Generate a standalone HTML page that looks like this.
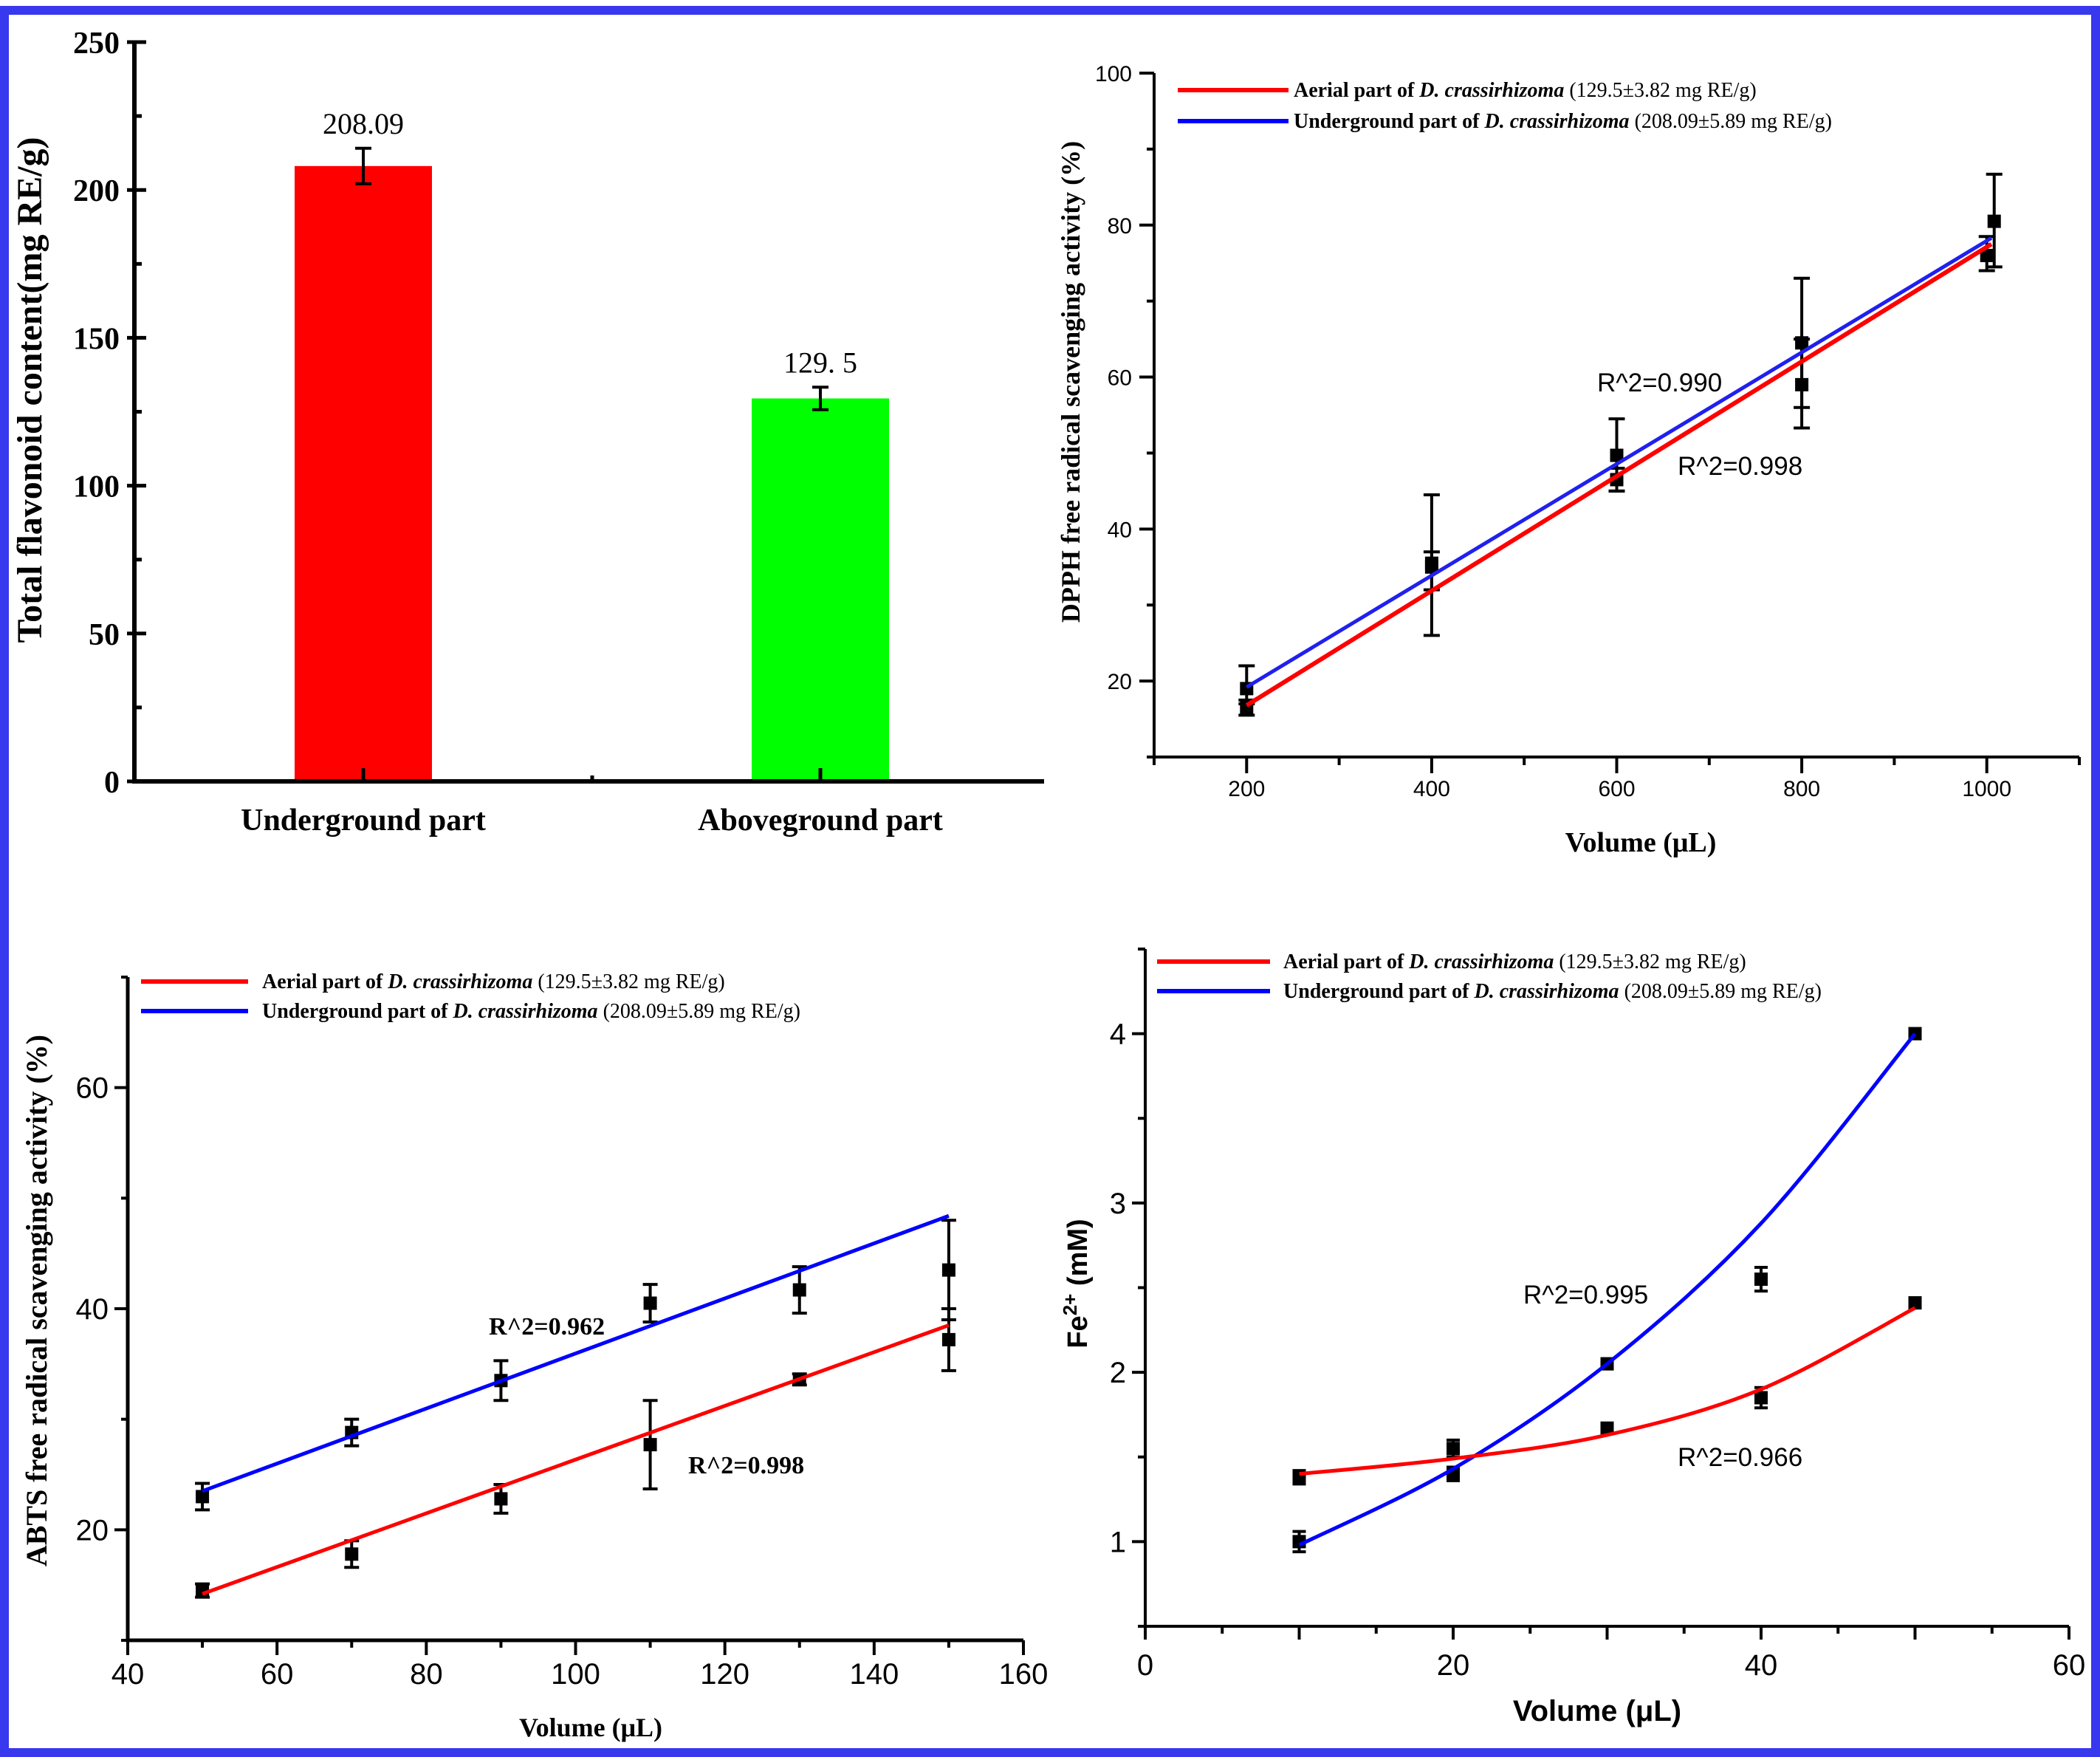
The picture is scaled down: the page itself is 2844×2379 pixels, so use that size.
<!DOCTYPE html>
<html><head><meta charset="utf-8">
<style>
html,body{margin:0;padding:0;background:#fff;}
svg{display:block;}
.tb{font-family:"Liberation Serif",serif;font-weight:bold;}
.tr{font-family:"Liberation Serif",serif;}
.ar{font-family:"Liberation Sans",sans-serif;}
.ab{font-family:"Liberation Sans",sans-serif;font-weight:bold;}
</style></head>
<body>
<svg id="fig" width="2844" height="2379" viewBox="0 0 2844 2379" xmlns="http://www.w3.org/2000/svg">
<rect x="0" y="0" width="2844" height="2379" fill="#fff"/>
<rect x="6" y="14" width="2832" height="2359" fill="none" stroke="#3838ee" stroke-width="12"/>
</svg>
<script>
// ---------- Panel A data ----------
const barCats = ["Underground part", "Aboveground part"];
const barVals = [208.09, 129.5];
const barErr = [6.0, 3.8];
const barLabels = ["208.09", "129. 5"];
const barColors = ["#ff0000", "#00ff00"];
const barTicks = [0, 50, 100, 150, 200, 250];
// ---------- Panel B (DPPH) ----------
const dpphXAerial = [200, 400, 600, 800, 1000];
const dpphYAerial = [16.5, 35, 46.5, 59, 76];
const dpphEAerialLo = [15.5, 32, 45, 53.3, 74];
const dpphEAerialHi = [17.5, 37, 48, 65, 78.5];
const dpphXUnder = [200, 400, 600, 800, 1008];
const dpphYUnder = [19, 35.5, 49.7, 64.5, 80.5];
const dpphEUnderLo = [17, 26, 45, 56, 74.5];
const dpphEUnderHi = [22, 44.5, 54.5, 73, 86.7];
const dpphFitAerial = [[200, 16.8], [1005, 77.5]];
const dpphFitUnder = [[200, 19.2], [1005, 78.3]];
const dpphXTicks = [200, 400, 600, 800, 1000];
const dpphYTicks = [20, 40, 60, 80, 100];
// ---------- Panel C (ABTS) ----------
const abtsX = [50, 70, 90, 110, 130, 150];
const abtsYUnder = [23, 28.8, 33.5, 40.5, 41.7, 43.5];
const abtsEUnder = [1.2, 1.2, 1.8, 1.7, 2.1, 4.5];
const abtsYAerial = [14.5, 17.8, 22.8, 27.7, 33.6, 37.2];
const abtsEAerial = [0.6, 1.2, 1.3, 4.0, 0.5, 2.8];
const abtsFitUnder = [[50, 23.5], [150, 48.4]];
const abtsFitAerial = [[50, 14.2], [150, 38.5]];
const abtsXTicks = [40, 60, 80, 100, 120, 140, 160];
const abtsYTicks = [20, 40, 60];
// ---------- Panel D (FRAP) ----------
const feX = [10, 20, 30, 40, 50];
const feYAerial = [1.38, 1.55, 1.67, 1.85, 2.41];
const feYUnder = [1.0, 1.40, 2.05, 2.55, 4.0];
const feErr = [0.04, 0.05, 0.03, 0.06, 0.03];
const feErrUnder = [0.06, 0.04, 0.03, 0.07, 0.03];
const feFitX = [10, 20, 30, 40, 50];
const feFitAerial = [1.40, 1.49, 1.63, 1.90, 2.38];
const feFitUnder = [0.98, 1.43, 2.05, 2.88, 4.0];
const feXTicks = [0, 20, 40, 60];
const feYTicks = [1, 2, 3, 4];

const NS = "http://www.w3.org/2000/svg";
const svg = document.getElementById("fig");
function mk(tag, attrs, parent) {
  const e = document.createElementNS(NS, tag);
  for (const k in attrs) e.setAttribute(k, attrs[k]);
  (parent || svg).appendChild(e);
  return e;
}
function lin(d0, d1, r0, r1) { return v => r0 + (v - d0) / (d1 - d0) * (r1 - r0); }
function txt(x, y, s, cls, size, anchor, parent) {
  const t = mk("text", {x: x, y: y, class: cls, "font-size": size, "text-anchor": anchor || "middle", fill: "#000"}, parent);
  t.textContent = s;
  return t;
}
function axes(g, x0, x1, y0, y1, w) {
  const a = mk("path", {d: `M${x0},${y1} V${y0} H${x1}`, stroke: "#000", "stroke-width": w, fill: "none"}, g);
  
  
}
function errbar(g, x, ylo, yhi, cap, col) {
  const e = mk("path", {d: `M${x},${ylo} V${yhi} M${x-cap},${ylo} H${x+cap} M${x-cap},${yhi} H${x+cap}`, stroke: col || "#000", "stroke-width": 4, fill: "none"}, g);
  
  
}
function marker(g, x, y, s) {
  const m = mk("rect", {x: x - s/2, y: y - s/2, width: s, height: s, fill: "#000"}, g);
  
  
}
function legend(g, x0, x1, y, tx, size, color, prefix, suffix) {
  const l = mk("line", {x1: x0, x2: x1, y1: y, y2: y, stroke: color, "stroke-width": 6}, g);
  
  
  const t = mk("text", {x: tx, y: y + size * 0.33, class: "tb", "font-size": size, fill: "#000"}, g);
  
  
  const s1 = mk("tspan", {}, t); s1.textContent = prefix;
  const s2 = mk("tspan", {"font-style": "italic"}, t); s2.textContent = "D. crassirhizoma";
  const s3 = mk("tspan", {"font-weight": "normal"}, t); s3.textContent = suffix;
}

// ================= Panel A =================
(function () {
  const g = mk("g", {});
  
  
  const X0 = 182, X1 = 1414, Y0 = 1058, Y1 = 57;
  const y = lin(0, 250, Y0, Y1);
  const cx = [492, 1111];
  const bw = 186;
  barVals.forEach((v, i) => {
    const r = mk("rect", {x: cx[i] - bw/2, y: y(v), width: bw, height: Y0 - y(v), fill: barColors[i]}, g);
    
    
    errbar(g, cx[i], y(v - barErr[i]), y(v + barErr[i]), 11);
    const vl = txt(cx[i], y(v + barErr[i]) - 20, barLabels[i], "tr", 40, "middle", g);
    
    
    const cl = txt(cx[i], 1124, barCats[i], "tb", 42, "middle", g);
    
    
    mk("line", {x1: cx[i], x2: cx[i], y1: Y0, y2: Y0 - 18, stroke: "#000", "stroke-width": 5}, g);
  });
  mk("line", {x1: 802, x2: 802, y1: Y0, y2: Y0 - 8, stroke: "#000", "stroke-width": 5}, g);
  axes(g, X0, X1, Y0, Y1, 6);
  barTicks.forEach(v => {
    mk("line", {x1: X0 - 10, x2: X0 + 16, y1: y(v), y2: y(v), stroke: "#000", "stroke-width": 5}, g);
    const t = txt(X0 - 20, y(v) + 15, String(v), "tb", 42, "end", g);
    
    
    if (v < 250) mk("line", {x1: X0, x2: X0 + 10, y1: y(v + 25), y2: y(v + 25), stroke: "#000", "stroke-width": 5}, g);
  });
  const yt = txt(0, 0, "Total flavonoid content(mg RE/g)", "tb", 48, "middle", g);
  yt.setAttribute("transform", "translate(56,528) rotate(-90)");
  
  
})();

// ================= Panel B (DPPH) =================
(function () {
  const g = mk("g", {});
  
  
  const X0 = 1563, X1 = 2816, Y0 = 1025, Y1 = 99;
  const x = lin(100, 1100, X0, X1), y = lin(10, 100, Y0, Y1);
  for (let v = 100; v <= 1100; v += 100) {
    const major = v % 200 === 0;
    mk("line", {x1: x(v), x2: x(v), y1: Y0, y2: Y0 + (major ? 22 : 11), stroke: "#000", "stroke-width": 4}, g);
  }
  dpphXTicks.forEach(v => {
    const t = txt(x(v), 1078, String(v), "ar", 30, "middle", g);
    
    
  });
  for (let v = 10; v <= 100; v += 10) {
    const major = v % 20 === 0;
    mk("line", {x1: X0 - (major ? 20 : 10), x2: X0, y1: y(v), y2: y(v), stroke: "#000", "stroke-width": 4}, g);
  }
  dpphYTicks.forEach(v => {
    const t = txt(X0 - 30, y(v) + 11, String(v), "ar", 30, "end", g);
    
    
  });
  axes(g, X0, X1, Y0, Y1, 4);
  dpphXAerial.forEach((v, i) => errbar(g, x(v), y(dpphEAerialLo[i]), y(dpphEAerialHi[i]), 11));
  dpphXUnder.forEach((v, i) => errbar(g, x(v), y(dpphEUnderLo[i]), y(dpphEUnderHi[i]), 11));
  dpphXAerial.forEach((v, i) => marker(g, x(v), y(dpphYAerial[i]), 18));
  dpphXUnder.forEach((v, i) => marker(g, x(v), y(dpphYUnder[i]), 18));
  const fr = mk("line", {x1: x(dpphFitAerial[0][0]), y1: y(dpphFitAerial[0][1]), x2: x(dpphFitAerial[1][0]), y2: y(dpphFitAerial[1][1]), stroke: "#ff0000", "stroke-width": 6}, g);
  
  
  const fb = mk("line", {x1: x(dpphFitUnder[0][0]), y1: y(dpphFitUnder[0][1]), x2: x(dpphFitUnder[1][0]), y2: y(dpphFitUnder[1][1]), stroke: "#2020ee", "stroke-width": 5}, g);
  
  
  legend(g, 1595, 1745, 122, 1752, 28, "#ff0000", "Aerial part of ", " (129.5±3.82 mg RE/g)");
  legend(g, 1595, 1745, 164, 1752, 28, "#0000ff", "Underground part of ", "  (208.09±5.89 mg RE/g)");
  const r1 = txt(2163, 530, "R^2=0.990", "ar", 35, "start", g);
  
  
  const r2 = txt(2272, 643, "R^2=0.998", "ar", 35, "start", g);
  
  
  const xt = txt(2222, 1153, "Volume (μL)", "tb", 38, "middle", g);
  
  
  const yt = txt(0, 0, "DPPH  free radical scavenging activity (%)", "tb", 36, "middle", g);
  yt.setAttribute("transform", "translate(1462,517) rotate(-90)");
  
  
})();

// ================= Panel C (ABTS) =================
(function () {
  const g = mk("g", {});
  
  
  const X0 = 173, X1 = 1386, Y0 = 2221, Y1 = 1323;
  const x = lin(40, 160, X0, X1), y = lin(10, 70, Y0, Y1);
  for (let v = 40; v <= 160; v += 10) {
    const major = v % 20 === 0;
    mk("line", {x1: x(v), x2: x(v), y1: Y0, y2: Y0 + (major ? 20 : 10), stroke: "#000", "stroke-width": 4}, g);
  }
  abtsXTicks.forEach(v => {
    const t = txt(x(v), 2280, String(v), "ar", 40, "middle", g);
    
    
  });
  for (let v = 10; v <= 70; v += 10) {
    const major = v % 20 === 0;
    mk("line", {x1: X0 - (major ? 18 : 9), x2: X0, y1: y(v), y2: y(v), stroke: "#000", "stroke-width": 4}, g);
  }
  abtsYTicks.forEach(v => {
    const t = txt(X0 - 26, y(v) + 14, String(v), "ar", 40, "end", g);
    
    
  });
  axes(g, X0, X1, Y0, Y1, 5);
  abtsX.forEach((v, i) => errbar(g, x(v), y(abtsYUnder[i] - abtsEUnder[i]), y(abtsYUnder[i] + abtsEUnder[i]), 10));
  abtsX.forEach((v, i) => errbar(g, x(v), y(abtsYAerial[i] - abtsEAerial[i]), y(abtsYAerial[i] + abtsEAerial[i]), 10));
  abtsX.forEach((v, i) => marker(g, x(v), y(abtsYUnder[i]), 18));
  abtsX.forEach((v, i) => marker(g, x(v), y(abtsYAerial[i]), 18));
  const fb = mk("line", {x1: x(abtsFitUnder[0][0]), y1: y(abtsFitUnder[0][1]), x2: x(abtsFitUnder[1][0]), y2: y(abtsFitUnder[1][1]), stroke: "#0000ff", "stroke-width": 5}, g);
  
  
  const fr = mk("line", {x1: x(abtsFitAerial[0][0]), y1: y(abtsFitAerial[0][1]), x2: x(abtsFitAerial[1][0]), y2: y(abtsFitAerial[1][1]), stroke: "#ff0000", "stroke-width": 5}, g);
  
  
  legend(g, 191, 336, 1329, 355, 28, "#ff0000", "Aerial part of ", "  (129.5±3.82 mg RE/g)");
  legend(g, 191, 336, 1369, 355, 28, "#0000ff", "Underground part of ", " (208.09±5.89 mg RE/g)");
  const r1 = txt(662, 1807, "R^2=0.962", "tb", 34, "start", g);
  
  
  const r2 = txt(932, 1995, "R^2=0.998", "tb", 34, "start", g);
  
  
  const xt = txt(800, 2351, "Volume (μL)", "tb", 36, "middle", g);
  
  
  const yt = txt(0, 0, "ABTS free radical scavenging activity (%)", "tb", 40, "middle", g);
  yt.setAttribute("transform", "translate(63,1761) rotate(-90)");
  
  
})();

// ================= Panel D (Fe2+) =================
(function () {
  const g = mk("g", {});
  
  
  const X0 = 1551, X1 = 2802, Y0 = 2202, Y1 = 1285;
  const x = lin(0, 60, X0, X1), y = lin(0.5, 4.5, Y0, Y1);
  for (let v = 0; v <= 60; v += 5) {
    const major = v % 10 === 0;
    mk("line", {x1: x(v), x2: x(v), y1: Y0, y2: Y0 + (major ? 18 : 10), stroke: "#000", "stroke-width": 4}, g);
  }
  feXTicks.forEach(v => {
    const t = txt(x(v), 2268, String(v), "ar", 40, "middle", g);
    
    
  });
  for (let v = 0.5; v <= 4.5; v += 0.5) {
    const major = Math.abs(v - Math.round(v)) < 1e-6;
    mk("line", {x1: X0 - (major ? 18 : 10), x2: X0, y1: y(v), y2: y(v), stroke: "#000", "stroke-width": 4}, g);
  }
  feYTicks.forEach(v => {
    const t = txt(X0 - 26, y(v) + 14, String(v), "ar", 40, "end", g);
    
    
  });
  axes(g, X0, X1, Y0, Y1, 4);
  feX.forEach((v, i) => errbar(g, x(v), y(feYAerial[i] - feErr[i]), y(feYAerial[i] + feErr[i]), 9));
  feX.forEach((v, i) => errbar(g, x(v), y(feYUnder[i] - feErrUnder[i]), y(feYUnder[i] + feErrUnder[i]), 9));
  feX.forEach((v, i) => marker(g, x(v), y(feYAerial[i]), 18));
  feX.forEach((v, i) => marker(g, x(v), y(feYUnder[i]), 18));
  function curve(xs, ys) {
    const P = xs.map((v, i) => [x(v), y(ys[i])]);
    let d = `M${P[0][0]},${P[0][1]}`;
    for (let i = 0; i < P.length - 1; i++) {
      const p0 = P[Math.max(0, i - 1)], p1 = P[i], p2 = P[i + 1], p3 = P[Math.min(P.length - 1, i + 2)];
      const c1 = [p1[0] + (p2[0] - p0[0]) / 6, p1[1] + (p2[1] - p0[1]) / 6];
      const c2 = [p2[0] - (p3[0] - p1[0]) / 6, p2[1] - (p3[1] - p1[1]) / 6];
      d += ` C${c1[0]},${c1[1]} ${c2[0]},${c2[1]} ${p2[0]},${p2[1]}`;
    }
    return d;
  }
  const fb = mk("path", {d: curve(feFitX, feFitUnder), stroke: "#0000ff", "stroke-width": 5, fill: "none"}, g);
  
  
  const fr = mk("path", {d: curve(feFitX, feFitAerial), stroke: "#ff0000", "stroke-width": 5, fill: "none"}, g);
  
  
  legend(g, 1567, 1720, 1302, 1738, 28, "#ff0000", "Aerial part of ", " (129.5±3.82 mg RE/g)");
  legend(g, 1567, 1720, 1342, 1738, 28, "#0000ff", "Underground part of ", " (208.09±5.89 mg RE/g)");
  const r1 = txt(2063, 1765, "R^2=0.995", "ar", 35, "start", g);
  
  
  const r2 = txt(2272, 1985, "R^2=0.966", "ar", 35, "start", g);
  
  
  const xt = txt(2163, 2330, "Volume (μL)", "ab", 40, "middle", g);
  
  
  const yt = mk("text", {class: "ab", "font-size": 38, "text-anchor": "middle", fill: "#000", transform: "translate(1472,1738) rotate(-90)"}, g);
  
  
  const a = mk("tspan", {}, yt); a.textContent = "Fe";
  const b = mk("tspan", {dy: -14, "font-size": 26}, yt); b.textContent = "2+";
  const c = mk("tspan", {dy: 14}, yt); c.textContent = " (mM)";
})();
</script>
</body></html>
